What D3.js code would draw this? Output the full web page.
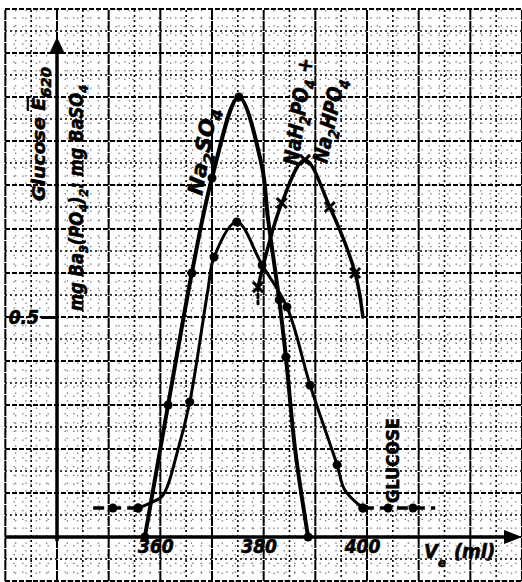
<!DOCTYPE html>
<html>
<head>
<meta charset="utf-8">
<script src="https://cdn.jsdelivr.net/npm/d3@7"></script>
<style>
  html, body { margin: 0; padding: 0; background: #fff; }
  svg { display: block; }
  text { font-family: "DejaVu Sans Condensed", "DejaVu Sans", sans-serif; font-weight: bold; font-style: italic; fill: #000; stroke: #000; stroke-width: 0.6; }
</style>
</head>
<body>
<svg id="chart" width="522" height="582"></svg>
<script>
// Elution volume Ve (ml) and readings for each eluted fraction
const na2so4Ve    = [357.0, 361.5, 366.1, 370.0, 375.2, 379.7, 380.8, 383.0, 384.3, 386.1, 388.6];
const na2so4Ratio = [0.00, 0.30, 0.60, 0.816, 1.00, 0.84, 0.727, 0.539, 0.409, 0.198, 0.00];
const na2so4Dot   = [1, 1, 1, 1, 1, 0, 0, 1, 1, 0, 1];

const glucoseVe = [355.7, 358.0, 360.5, 363.4, 365.7, 369.2, 370.4, 374.8, 379.7, 384.5, 389.0, 394.2, 395.7, 399.2];
const glucoseE  = [0.066, 0.077, 0.095, 0.198, 0.307, 0.561, 0.636, 0.716, 0.618, 0.523, 0.345, 0.164, 0.107, 0.066];
const glucoseDot = [1, 0, 0, 0, 1, 0, 1, 1, 1, 1, 1, 1, 0, 1];

// flat glucose background before and after the peak
const glucoseBaseLeftVe  = [347.0, 350.8, 355.7];
const glucoseBaseRightVe = [399.2, 404.1, 408.9, 413.2];
const glucoseBaseE = 0.066;
const glucoseBaseLeftDot  = [0, 1, 1];
const glucoseBaseRightDot = [1, 1, 1, 0];

const phosVe    = [378.9, 383.5, 388.0, 392.8, 397.7, 399.2];
const phosRatio = [0.568, 0.759, 0.857, 0.750, 0.600, 0.500];
const phosMark  = [1, 1, 1, 1, 1, 0];
const phosStubRatio = 0.53;

const xTicks = [360, 380, 400];
const yTicks = [0.5];

const svg = d3.select("#chart");
const W = 522, H = 582;

const x = d3.scaleLinear().domain([340, 430]).range([57, 522]);
const y = d3.scaleLinear().domain([0, 1]).range([537, 97]);

// ---------- graph paper ----------
const grid = svg.append("g");
const xFine = d3.range(330, 432, 2), yFine = d3.range(-0.10, 1.21, 0.02);
const xHalf = d3.range(335, 432, 10), yHalf = d3.range(-0.05, 1.21, 0.1);
const xMajor = d3.range(330, 432, 10), yMajor = d3.range(-0.1, 1.21, 0.1);
const paperTop = 10, paperLeft = 5;

grid.selectAll(".vf").data(xFine).join("line")
  .attr("x1", d => x(d)).attr("x2", d => x(d)).attr("y1", paperTop).attr("y2", H)
  .attr("stroke", "#000").attr("stroke-width", 1.2).attr("stroke-dasharray", "1.5,6").attr("opacity", 0.5);
grid.selectAll(".hf").data(yFine).join("line")
  .attr("x1", paperLeft).attr("x2", W).attr("y1", d => y(d)).attr("y2", d => y(d))
  .attr("stroke", "#000").attr("stroke-width", 1.2).attr("stroke-dasharray", "1.5,7").attr("opacity", 0.5);

grid.selectAll(".vh").data(xHalf).join("line")
  .attr("x1", d => x(d)).attr("x2", d => x(d)).attr("y1", paperTop).attr("y2", H)
  .attr("stroke", "#000").attr("stroke-width", 1.6).attr("stroke-dasharray", "2,3");
grid.selectAll(".hh").data(yHalf).join("line")
  .attr("x1", paperLeft).attr("x2", W).attr("y1", d => y(d)).attr("y2", d => y(d))
  .attr("stroke", "#000").attr("stroke-width", 1.6).attr("stroke-dasharray", "2,3");

grid.selectAll(".vm").data(xMajor).join("line")
  .attr("x1", d => x(d)).attr("x2", d => x(d)).attr("y1", paperTop).attr("y2", H)
  .attr("stroke", "#000").attr("stroke-width", 2).attr("stroke-dasharray", "10,1");
grid.selectAll(".hm").data(yMajor).join("line")
  .attr("x1", paperLeft).attr("x2", W).attr("y1", d => y(d)).attr("y2", d => y(d))
  .attr("stroke", "#000").attr("stroke-width", 2.2).attr("stroke-dasharray", "5,2");

// ---------- axes ----------
const x0 = x(340), y0 = y(0);
svg.append("line").attr("x1", paperLeft).attr("x2", W - 14).attr("y1", y0).attr("y2", y0)
  .attr("stroke", "#000").attr("stroke-width", 3.5);
svg.append("line").attr("x1", x0).attr("x2", x0).attr("y1", y0 + 4).attr("y2", 52)
  .attr("stroke", "#000").attr("stroke-width", 3.5);
// arrow heads
svg.append("path").attr("d", `M${x0},37 L${x0 - 8},54 L${x0 + 8},54 Z`).attr("fill", "#000");
svg.append("path").attr("d", `M${W},${y0} L${W - 18},${y0 - 7} L${W - 18},${y0 + 7} Z`).attr("fill", "#000");

const tickFont = sel => sel.style("font-family", "'DejaVu Sans Condensed', sans-serif")
  .style("font-weight", "bold").style("font-style", "italic").style("stroke", "#000").style("stroke-width", 0.6);

const xAxis = svg.append("g").attr("transform", `translate(0,${y0})`)
  .call(d3.axisBottom(x).tickValues(xTicks).tickSize(0).tickPadding(6).tickFormat(d3.format("d")));
xAxis.select(".domain").remove();
xAxis.selectAll("text").attr("font-size", 19).attr("dx", -5).attr("dy", "0.5em").call(tickFont);

const yAxis = svg.append("g").attr("transform", `translate(${x0},0)`)
  .call(d3.axisLeft(y).tickValues(yTicks).tickSize(16).tickPadding(2).tickFormat(d3.format(".1f")));
yAxis.select(".domain").remove();
yAxis.selectAll("line").attr("stroke", "#000").attr("stroke-width", 3);
yAxis.selectAll("text").attr("font-size", 19).call(tickFont);

// axis titles
const ve = svg.append("text").attr("x", 424).attr("y", 558).attr("font-size", 20);
ve.append("tspan").text("V");
ve.append("tspan").attr("dy", 9).attr("font-size", 13).text("e");
ve.append("tspan").attr("dy", -9).attr("dx", 8).text("(ml)");

const gl = svg.append("text").attr("transform", "translate(45,201) rotate(-90)").attr("font-size", 18)
  .attr("textLength", 134).attr("lengthAdjust", "spacingAndGlyphs");
gl.append("tspan").text("Glucose ");
gl.append("tspan").style("text-decoration", "overline").text("E");
gl.append("tspan").attr("dy", 6).attr("font-size", 14).text("620");

const mg = svg.append("text").attr("transform", "translate(83,311) rotate(-90)").attr("font-size", 19)
  .attr("textLength", 226).attr("lengthAdjust", "spacingAndGlyphs");
mg.append("tspan").text("mg Ba");
mg.append("tspan").attr("dy", 5).attr("font-size", 13).text("3");
mg.append("tspan").attr("dy", -5).text("(PO");
mg.append("tspan").attr("dy", 5).attr("font-size", 13).text("4");
mg.append("tspan").attr("dy", -5).text(")");
mg.append("tspan").attr("dy", 5).attr("font-size", 13).text("2");
mg.append("tspan").attr("dy", -5).text(": mg BaSO");
mg.append("tspan").attr("dy", 5).attr("font-size", 13).text("4");

// ---------- curves ----------
const line = d3.line().x(d => x(d[0])).y(d => y(d[1])).curve(d3.curveCatmullRom.alpha(0.5));
const straight = d3.line().x(d => x(d[0])).y(d => y(d[1]));
const zip = (a, b) => a.map((v, i) => [v, b[i]]);

const na2so4 = zip(na2so4Ve, na2so4Ratio);
const glucose = zip(glucoseVe, glucoseE);
const phos = zip(phosVe, phosRatio);
const baseL = glucoseBaseLeftVe.map(v => [v, glucoseBaseE]);
const baseR = glucoseBaseRightVe.map(v => [v, glucoseBaseE]);

const curves = svg.append("g").attr("fill", "none").attr("stroke", "#000").attr("stroke-linecap", "round");
curves.append("path").attr("d", line(na2so4)).attr("stroke-width", 4);
curves.append("path").attr("d", line(glucose)).attr("stroke-width", 3);
curves.append("path").attr("d", line(phos)).attr("stroke-width", 3.5);
curves.append("path").attr("d", straight(baseL))
  .attr("stroke-width", 3.5).attr("stroke-dasharray", "11,6").attr("stroke-linecap", "butt");
curves.append("path").attr("d", straight(baseR))
  .attr("stroke-width", 3.5).attr("stroke-dasharray", "11,6").attr("stroke-linecap", "butt");
curves.append("path")
  .attr("d", straight([[phosVe[0], phosRatio[0]], [phosVe[0], phosStubRatio]]))
  .attr("stroke-width", 3).attr("stroke-dasharray", "4,3");

// point markers
const dots = svg.append("g").attr("fill", "#000");
const addDots = (pts, flags, r) => dots.append("g").selectAll("circle").data(pts.filter((p, i) => flags[i])).join("circle")
  .attr("cx", d => x(d[0])).attr("cy", d => y(d[1])).attr("r", r);
addDots(na2so4, na2so4Dot, 4.5);
addDots(glucose, glucoseDot, 4.5);
addDots(baseL, glucoseBaseLeftDot, 4.5);
addDots(baseR, glucoseBaseRightDot, 4.5);

svg.append("g").selectAll("path").data(phos.filter((p, i) => phosMark[i])).join("path")
  .attr("d", d => { const cx = x(d[0]), cy = y(d[1]), s = 5;
    return `M${cx - s},${cy - s}L${cx + s},${cy + s}M${cx - s},${cy + s}L${cx + s},${cy - s}`; })
  .attr("stroke", "#000").attr("stroke-width", 3);

// ---------- curve labels ----------
function chem(g, parts, size) {
  parts.forEach(p => {
    if (p.sub) g.append("tspan").attr("dy", 6).attr("font-size", size * 0.72).text(p.t);
    else g.append("tspan").attr("dy", p.after ? -6 : 0).text(p.t);
  });
}
const lab1 = svg.append("text").attr("transform", "translate(202,196) rotate(-80)").attr("font-size", 21)
  .attr("textLength", 88).attr("lengthAdjust", "spacingAndGlyphs");
chem(lab1, [{t: "Na"}, {t: "2", sub: 1}, {t: "SO", after: 1}, {t: "4", sub: 1}], 21);

const lab2 = svg.append("text").attr("transform", "translate(298,166) rotate(-82)").attr("font-size", 21)
  .attr("textLength", 108).attr("lengthAdjust", "spacingAndGlyphs");
chem(lab2, [{t: "NaH"}, {t: "2", sub: 1}, {t: "PO", after: 1}, {t: "4", sub: 1}, {t: " +", after: 1}], 21);

const lab3 = svg.append("text").attr("transform", "translate(327,164) rotate(-78)").attr("font-size", 21)
  .attr("textLength", 86).attr("lengthAdjust", "spacingAndGlyphs");
chem(lab3, [{t: "Na"}, {t: "2", sub: 1}, {t: "HPO", after: 1}, {t: "4", sub: 1}], 21);

svg.append("text").attr("transform", "translate(399,503) rotate(-90)").attr("font-size", 17)
  .attr("textLength", 85).attr("lengthAdjust", "spacingAndGlyphs").style("font-style", "normal").text("GLUCOSE");
</script>
</body>
</html>
